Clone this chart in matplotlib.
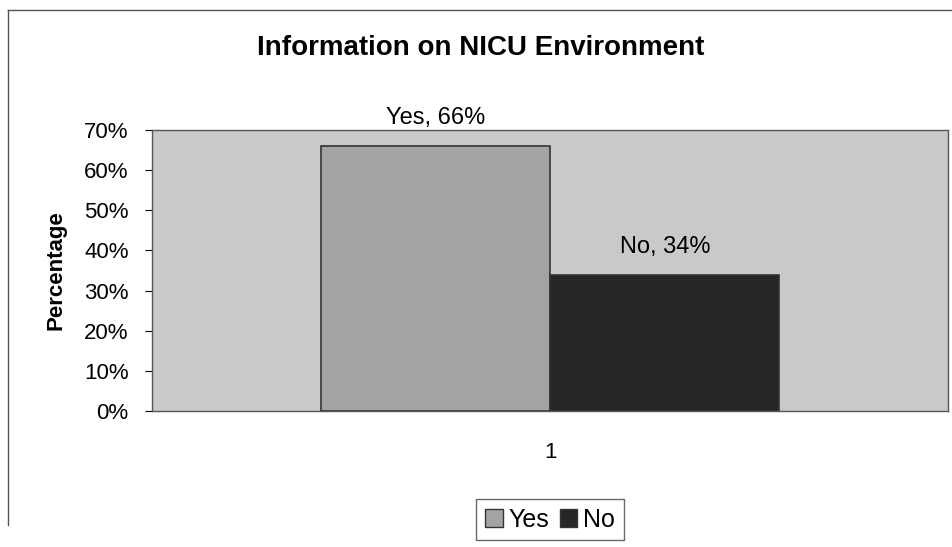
import matplotlib.pyplot as plt
from matplotlib.ticker import PercentFormatter
import matplotlib.patches as mpatches

categories = ['Yes', 'No']
values = [66, 34]
colors = ['#a3a3a3', '#262626']
xcat = [1]

plt.rcParams['font.family'] = ['Liberation Sans', 'DejaVu Sans']

fig = plt.figure(figsize=(9.52, 5.47), dpi=100)
ax = fig.add_axes([0.16, 0.2486, 0.836, 0.5137])
ax.set_facecolor('#c9c9c9')

w = 0.288
offsets = [-w / 2, w / 2]
for cat, val, col, off in zip(categories, values, colors, offsets):
    ax.bar(xcat[0] + off, val, width=w, color=col, edgecolor='#333333', linewidth=1.2, label=cat)
    ax.text(xcat[0] + off, val + 4.2, f'{cat}, {val}%', ha='center', va='bottom', fontsize=17)

ax.set_xlim(0.5, 1.5)
ax.set_ylim(0, 70)
ax.set_yticks(range(0, 71, 10))
ax.yaxis.set_major_formatter(PercentFormatter(decimals=0))
ax.set_xticks(xcat)
ax.set_xticklabels(['1'])
ax.tick_params(axis='y', labelsize=16, length=5, direction='out', pad=12)
ax.tick_params(axis='x', labelsize=16, length=0, pad=22)
for s in ax.spines.values():
    s.set_color('#555555')
    s.set_linewidth(1)
ax.set_ylabel('Percentage', fontsize=16, fontweight='bold', labelpad=13)

fig.text(0.505, 0.913, 'Information on NICU Environment', ha='center', va='center',
         fontsize=20, fontweight='bold')

handles = [mpatches.Patch(facecolor=c, edgecolor='#333333', label=l) for l, c in zip(categories, colors)]
fig.legend(handles=handles, loc='center', bbox_to_anchor=(0.578, 0.05), ncol=2, fontsize=18,
           frameon=True, fancybox=False, edgecolor='#444444', handlelength=0.7, handleheight=0.7,
           handletextpad=0.25, columnspacing=0.4, borderpad=0.35)

# outer chart frame
fig.add_artist(plt.Line2D([0.008, 0.008], [0.04, 0.982], color='#555555', linewidth=1))
fig.add_artist(plt.Line2D([0.008, 1.0], [0.982, 0.982], color='#555555', linewidth=1))

fig.savefig('out.png', dpi=100)
